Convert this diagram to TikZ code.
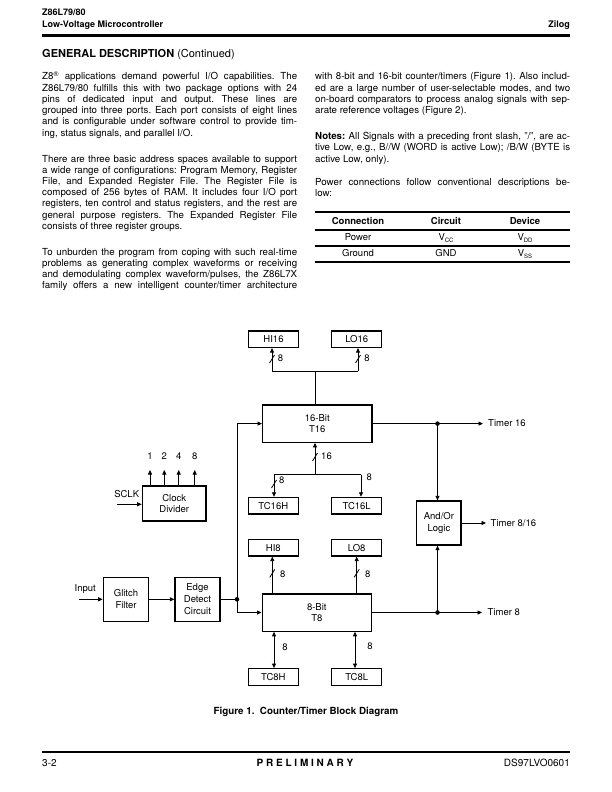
\documentclass[tikz,border=0pt]{standalone}
\usepackage{fontspec}
\setmainfont{TeX Gyre Heros}
\usetikzlibrary{arrows.meta}
\frenchspacing
\newcommand\jline[3]{\node[body] (#1) at (#2) {\makebox[255pt][s]{#3}};}
\newcommand\lline[3]{\node[body] (#1) at (#2) {#3};}
\newcommand\slashmk[2]{\draw[conn] ([shift={(-2.5,4)}]#1) -- ([shift={(2.5,-4)}]#1) coordinate (#2);}
\newcommand\subs[1]{\raisebox{-2.2pt}{\fontsize{6}{6}\selectfont #1}}
\begin{document}
\begin{tikzpicture}[x=1pt,y=-1pt,
  body/.style={font=\fontsize{9.7}{11}\selectfont\frenchspacing, inner sep=0pt, anchor=base west},
  tab/.style={font=\fontsize{9.5}{11}\selectfont, inner sep=0pt, anchor=base},
  hdr/.style={font=\fontsize{9}{11}\selectfont\bfseries, inner sep=0pt, anchor=base west},
  box/.style={draw, line width=1.3pt, inner sep=0pt, align=center, font=\fontsize{9.5}{11.7}\selectfont},
  reg/.style={box, minimum width=50pt, minimum height=16.5pt},
  lbl/.style={font=\fontsize{9.5}{11}\selectfont, inner sep=0pt},
  conn/.style={line width=0.8pt},
  arr/.style={conn, -{Triangle[length=4.5pt,width=4pt]}},
  barr/.style={conn, {Triangle[length=4.5pt,width=4pt]}-{Triangle[length=4.5pt,width=4pt]}},
  jdot/.style={circle, fill, inner sep=0pt, minimum size=4.6pt},
  rulel/.style={line width=1.1pt}]
\useasboundingbox (0,0) rectangle (612,792);
\fill[white] (0,0) rectangle (612,792);
% ---------- header ----------
\node[hdr] (h1) at (42,15.5) {Z86L79/80};
\node[hdr] (h2) at (42,27.5) {Low-Voltage Microcontroller};
\node[hdr, anchor=base east] (h3) at (570,27.5) {Zilog};
\coordinate (hr1) at (42,35.5); \coordinate (hr2) at (570,35.5);
\draw[line width=2.5pt] (hr1) -- (hr2);
\node[body, font=\fontsize{11}{13}\selectfont] (gd) at (42,57) {\textbf{GENERAL DESCRIPTION} (Continued)};
% ---------- left column ----------
\jline{a1}{42,80}{Z8\textsuperscript{\textregistered} applications demand powerful I/O capabilities. The}
\jline{a2}{42,91.2}{Z86L79/80 fulfills this with two package options with 24}
\jline{a3}{42,102.4}{pins of dedicated input and output. These lines are}
\jline{a4}{42,113.6}{grouped into three ports. Each port consists of eight lines}
\jline{a5}{42,124.8}{and is configurable under software control to provide tim-}
\lline{a6}{42,136}{ing, status signals, and parallel I/O.}
\jline{b1}{42,162}{There are three basic address spaces available to support}
\jline{b2}{42,173.2}{a wide range of configurations: Program Memory, Register}
\jline{b3}{42,184.4}{File, and Expanded Register File. The Register File is}
\jline{b4}{42,195.6}{composed of 256 bytes of RAM. It includes four I/O port}
\jline{b5}{42,206.8}{registers, ten control and status registers, and the rest are}
\jline{b6}{42,218}{general purpose registers. The Expanded Register File}
\lline{b7}{42,229.2}{consists of three register groups.}
\jline{c1}{42,255.2}{To unburden the program from coping with such real-time}
\jline{c2}{42,266.4}{problems as generating complex waveforms or receiving}
\jline{c3}{42,277.6}{and demodulating complex waveform/pulses, the Z86L7X}
\jline{c4}{42,288.8}{family offers a new intelligent counter/timer architecture}
% ---------- right column ----------
\jline{d1}{315,80}{with 8-bit and 16-bit counter/timers (Figure 1). Also includ-}
\jline{d2}{315,91.2}{ed are a large number of user-selectable modes, and two}
\jline{d3}{315,102.4}{on-board comparators to process analog signals with sep-}
\lline{d4}{315,113.6}{arate reference voltages (Figure 2).}
\jline{e1}{315,139.6}{\textbf{Notes:} All Signals with a preceding front slash, "/", are ac-}
\jline{e2}{315,150.8}{tive Low, e.g., B//W (WORD is active Low); /B/W (BYTE is}
\lline{e3}{315,162}{active Low, only).}
\jline{f1}{315,185.5}{Power connections follow conventional descriptions be-}
\lline{f2}{315,196.7}{low:}
% ---------- table ----------
\coordinate (r1a) at (315,212); \coordinate (r1b) at (570,212);
\coordinate (r2a) at (315,230); \coordinate (r2b) at (570,230);
\coordinate (r3a) at (315,246); \coordinate (r3b) at (570,246);
\coordinate (r4a) at (315,262); \coordinate (r4b) at (570,262);
\draw[rulel] (r1a) -- (r1b);
\draw[rulel] (r2a) -- (r2b);
\draw[rulel] (r3a) -- (r3b);
\draw[rulel] (r4a) -- (r4b);
\node[tab] (th1) at (358,224) {\textbf{Connection}};
\node[tab] (th2) at (446,224) {\textbf{Circuit}};
\node[tab] (th3) at (525,224) {\textbf{Device}};
\node[tab] (p1) at (358,240.5) {Power};
\node[tab] (p2) at (446,240.5) {V\subs{CC}};
\node[tab] (p3) at (525,240.5) {V\subs{DD}};
\node[tab] (g1) at (358,256) {Ground};
\node[tab] (g2) at (446,256) {GND};
\node[tab] (g3) at (525,256) {V\subs{SS}};
% ---------- diagram boxes ----------
\node[reg] (HI16) at (273.5,339.2) {HI16};
\node[reg] (LO16) at (356.7,339.2) {LO16};
\node[box, minimum width=109.3pt, minimum height=37.3pt] (T16) at (317.3,423.6) {16-Bit\\T16};
\node[reg] (TC16H) at (273.3,505.7) {TC16H};
\node[reg] (TC16L) at (356.7,505.7) {TC16L};
\node[reg] (HI8) at (273.3,547.7) {HI8};
\node[reg] (LO8) at (356.7,547.7) {LO8};
\node[box, minimum width=109.3pt, minimum height=37.3pt] (T8) at (316.8,612.5) {8-Bit\\T8};
\node[reg] (TC8H) at (273.3,677) {TC8H};
\node[reg] (TC8L) at (356.7,677) {TC8L};
\node[box, minimum width=44.3pt, minimum height=44pt] (AO) at (438.9,523) {And/Or\\Logic};
\node[box, minimum width=45.4pt, minimum height=43.7pt] (GF) at (126,599.3) {Glitch\\Filter};
\node[box, minimum width=45pt, minimum height=43.7pt] (ED) at (197.5,599.3) {Edge\\Detect\\Circuit};
\node[box, minimum width=63.7pt, minimum height=35pt] (CD) at (174.2,503.5) {Clock\\Divider};
% ---------- T16 top ----------
\coordinate (b16) at (315,371); \coordinate (b16l) at (272,371); \coordinate (b16r) at (358,371);
\draw[conn] (T16.north -| b16) -- (b16);
\draw[conn] (b16l) -- (b16r);
\draw[arr] (b16l) -- (HI16.south -| b16l);
\draw[arr] (b16r) -- (LO16.south -| b16r);
\coordinate (s1) at (272,359); \coordinate (s2) at (358,359);
\slashmk{s1}{s1e} \slashmk{s2}{s2e}
\node[lbl] (l1) at (280.5,358) {8};
\node[lbl] (l2) at (367,358) {8};
% ---------- T16 bottom ----------
\coordinate (c16) at (315,474.5); \coordinate (c16l) at (274,474.5); \coordinate (c16r) at (361,474.5);
\draw[arr] (c16) -- (T16.south -| c16);
\draw[conn] (c16l) -- (c16r);
\draw[arr] (c16l) -- (TC16H.north -| c16l);
\draw[arr] (c16r) -- (TC16L.north -| c16r);
\coordinate (s3) at (315,457); \coordinate (s4) at (274,484);
\slashmk{s3}{s3e} \slashmk{s4}{s4e}
\node[lbl] (l3) at (326.5,456) {16};
\node[lbl] (l4) at (281.7,480) {8};
\node[lbl] (l5) at (369.3,477) {8};
% ---------- T8 top / bottom ----------
\coordinate (xh8) at (272.3,0); \coordinate (xl8) at (356.7,0);
\draw[arr] (T8.north -| xh8) -- (HI8.south -| xh8);
\draw[arr] (T8.north -| xl8) -- (LO8.south -| xl8);
\coordinate (s5) at (272.3,573.3); \coordinate (s6) at (356.7,573.3);
\slashmk{s5}{s5e} \slashmk{s6}{s6e}
\node[lbl] (l6) at (282.7,574) {8};
\node[lbl] (l7) at (367.7,574) {8};
\coordinate (xt8h) at (274,0); \coordinate (xt8l) at (355,0);
\draw[barr] (T8.south -| xt8h) -- (TC8H.north -| xt8h);
\draw[barr] (T8.south -| xt8l) -- (TC8L.north -| xt8l);
\node[lbl] (l8) at (285,647) {8};
\node[lbl] (l9) at (370,646) {8};
% ---------- clock divider ----------
\coordinate (k1) at (150,470); \coordinate (k2) at (164.3,470);
\coordinate (k3) at (178.7,470); \coordinate (k4) at (194.7,470);
\draw[arr] (CD.north -| k1) -- (k1);
\draw[arr] (CD.north -| k2) -- (k2);
\draw[arr] (CD.north -| k3) -- (k3);
\draw[arr] (CD.north -| k4) -- (k4);
\node[lbl] (n1) at (150,456) {1};
\node[lbl] (n2) at (164.3,456) {2};
\node[lbl] (n4) at (178.7,456) {4};
\node[lbl] (n8) at (194.7,456) {8};
\node[lbl] (sclk) at (126.7,494) {SCLK};
\coordinate (sclkin) at (117.3,504.3);
\draw[arr] (sclkin) -- (CD.west |- sclkin);
% ---------- input chain ----------
\node[lbl] (inp) at (85.3,589.3) {Input};
\coordinate (inpin) at (79,599.3);
\draw[arr] (inpin) -- (GF.west);
\draw[arr] (GF.east) -- (ED.west);
\coordinate (j1) at (237,599.3);
\draw[conn] (ED.east) -- (j1);
\draw[arr] (j1) |- (T8.west);
\draw[arr] (j1) |- (T16.west);
\node[jdot] (dj1) at (j1) {};
% ---------- outputs ----------
\coordinate (o16) at (483,423.6);
\coordinate (d16) at (437.5,423.6);
\draw[arr] (T16.east) -- (o16);
\node[jdot] (dd16) at (d16) {};
\draw[arr] (d16) -- (AO.north -| d16);
\node[lbl, anchor=west] (t16) at (488,423.6) {Timer 16};
\coordinate (o816) at (486,523);
\draw[arr] (AO.east) -- (o816);
\node[lbl, anchor=west] (t816) at (490.5,523) {Timer 8/16};
\coordinate (o8) at (482,612.5);
\coordinate (d8) at (437.5,612.5);
\draw[arr] (T8.east) -- (o8);
\node[jdot] (dd8) at (d8) {};
\draw[arr] (d8) -- (AO.south -| d8);
\node[lbl, anchor=west] (t8) at (487.5,612.5) {Timer 8};
% ---------- caption & footer ----------
\node[hdr, anchor=base, font=\fontsize{9.8}{11}\selectfont\bfseries] (cap) at (306,714.5) {Figure 1.\ \ Counter/Timer Block Diagram};
\coordinate (fr1) at (42,752); \coordinate (fr2) at (570,752);
\draw[line width=2.5pt] (fr1) -- (fr2);
\node[body, font=\fontsize{10}{11}\selectfont] (f1x) at (42,766.5) {3-2};
\node[hdr, anchor=base, font=\fontsize{10}{11}\selectfont\bfseries] (f2x) at (305,766.5) {P R E L I M I N A R Y};
\node[body, anchor=base east, font=\fontsize{10}{11}\selectfont] (f3x) at (570,766.5) {DS97LVO0601};
\end{tikzpicture}
\end{document}
